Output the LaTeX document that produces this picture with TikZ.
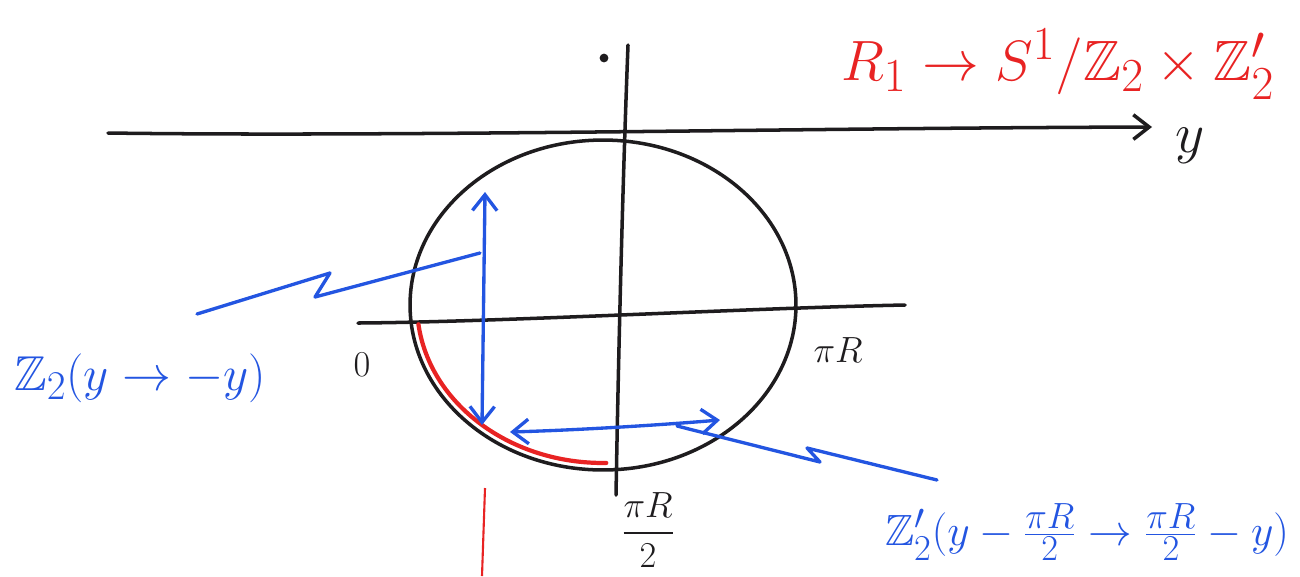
\documentclass[tikz,border=0pt]{standalone}
\usepackage{amssymb}
\usetikzlibrary{arrows.meta,calc}
\definecolor{penblue}{RGB}{35,85,225}
\definecolor{penred}{RGB}{232,35,35}
\definecolor{ink}{RGB}{30,28,30}
\tikzset{
  axis/.style={ink,line width=2pt,line cap=round},
  bluepen/.style={penblue,line width=1.9pt,line cap=round,line join=round},
  redpen/.style={penred,line width=2.4pt,line cap=round},
  barb/.style={-{Straight Barb[length=9pt,width=14pt,line width=2pt]}},
  dbarb/.style={{Straight Barb[length=9pt,width=14pt,line width=1.9pt]}-{Straight Barb[length=9pt,width=14pt,line width=1.9pt]}},
  lbl/.style={inner sep=0pt},
  big/.style={font=\fontsize{24.88}{30}\selectfont,transform shape},
}
\begin{document}
\begin{tikzpicture}[x=0.02cm,y=-0.02cm]
\useasboundingbox (0,0) rectangle (1300,576);
% coordinates
\coordinate (topL) at (108,133);
\coordinate (topR) at (1152,127);
\coordinate (vT) at (628,45);
\coordinate (vB) at (616,495);
\coordinate (mL) at (358,323);
\coordinate (mR) at (905,305);
\coordinate (c) at (603,305);
% axes
\draw[axis,barb] (topL) .. controls (400,137) and (800,128) .. (topR);
\draw[axis] (vT) .. controls (622,200) and (618,380) .. (vB);
\draw[axis] (mL) .. controls (500,322) and (750,308) .. (mR);
\fill[ink] (604,58) circle (2.5pt);
% circle
\draw[axis] (c) ellipse [x radius=3.86cm, y radius=3.3cm];
% red arc
\draw[redpen] (c) ++(187:3.72cm and 3.16cm) arc[start angle=187,end angle=271,x radius=3.72cm,y radius=3.16cm];
\coordinate (rT) at (485,488);
\coordinate (rB) at (482,576);
\draw[penred,line width=1.2pt] (rT) -- (rB);
% blue arrows
\coordinate (aT) at (485,192);
\coordinate (aB) at (482,425);
\draw[bluepen,dbarb] (aB) -- (aT);
\coordinate (hL) at (510,432);
\coordinate (hR) at (720,420);
\draw[bluepen,dbarb] (hL) .. controls (580,430) and (660,425) .. (hR);
% leaders
\draw[bluepen] (197,314) -- (330,273) -- (315,297) -- (480,253);
\draw[bluepen] (677,426) -- (820,462) -- (807,448) -- (937,480);
% labels
\node[lbl,penred,big,scale=1.3] (title) at (1058,64) {$R_1\to S^1/\mathbb{Z}_2\times\mathbb{Z}_2'$};
\node[lbl,ink,big,scale=1.3] (ylab) at (1190,146) {$y$};
\node[lbl,ink,font=\fontsize{20.74}{24}\selectfont] (zero) at (362,365) {$0$};
\node[lbl,ink,font=\fontsize{20.74}{26}\selectfont] (piR) at (838,350) {$\pi R$};
\node[lbl,ink,font=\fontsize{20.74}{25}\selectfont] (half) at (648,530) {$\displaystyle\frac{\pi R}{2}$};
\node[lbl,penblue,big,scale=1.12] (z2) at (140,378) {$\mathbb{Z}_2(y\to -y)$};
\node[lbl,penblue,big,scale=1.0] (z2p) at (1087,532) {$\mathbb{Z}_2'\bigl(y-\frac{\pi R}{2}\to\frac{\pi R}{2}-y\bigr)$};
\end{tikzpicture}
\end{document}
